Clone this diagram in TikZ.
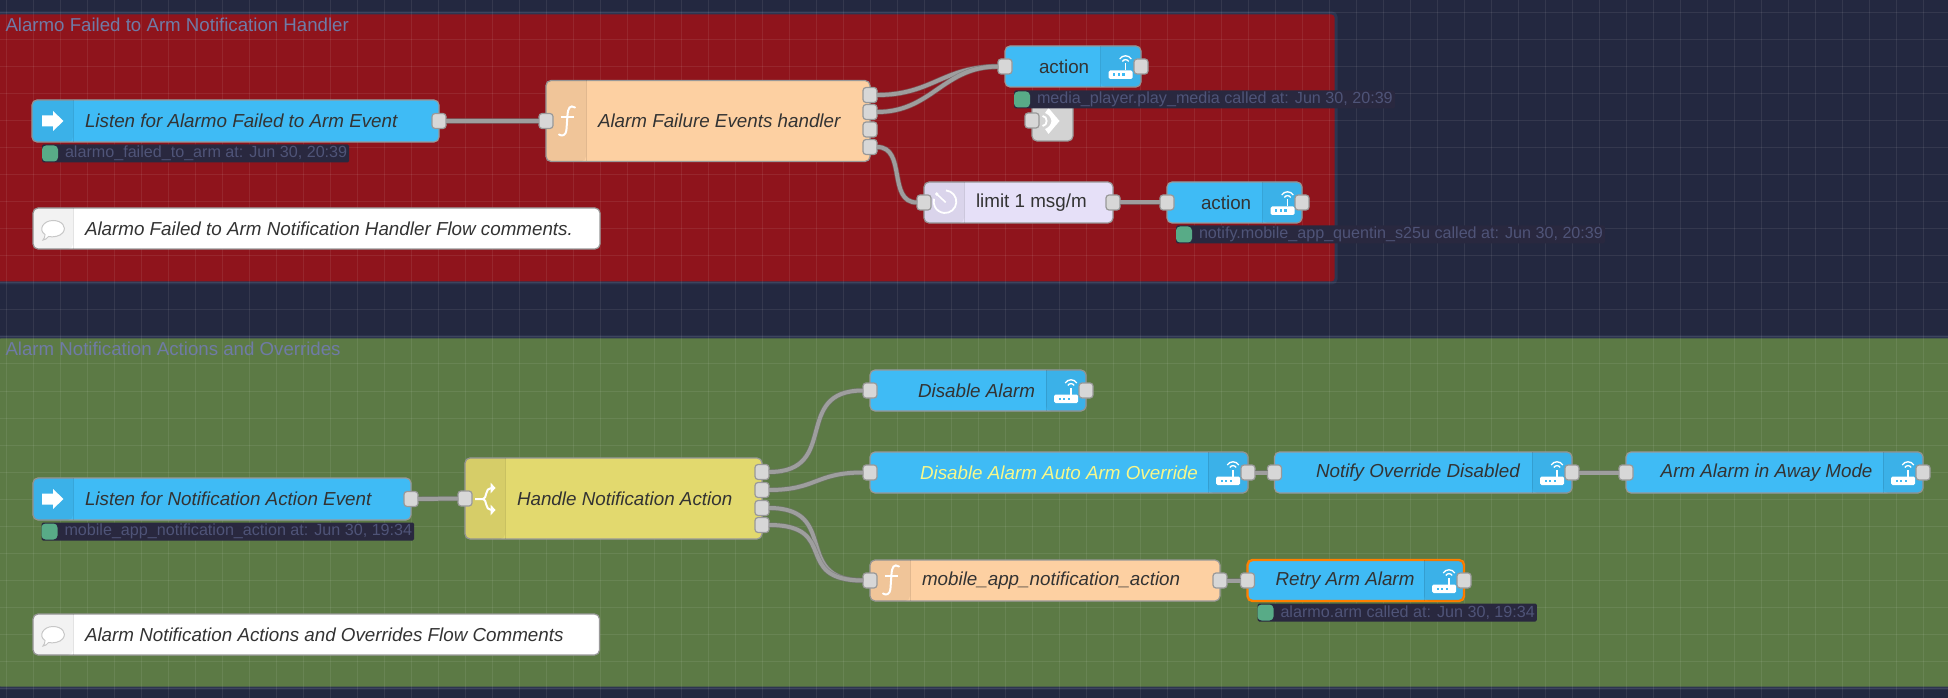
\documentclass[tikz,border=0pt]{standalone}
\usepackage{fontspec}
\setmainfont{Liberation Sans}
\newdimen\pxu
\pxu=0.75pt
\definecolor{canvasbg}{HTML}{232840}
\definecolor{groupedge}{HTML}{2D3550}
\definecolor{redgroup}{HTML}{8F141C}
\definecolor{greengroup}{HTML}{5C7A45}
\definecolor{titleink}{HTML}{6F7BA6}
\definecolor{statusink}{HTML}{4F5478}
\definecolor{statusbg}{HTML}{29283F}
\definecolor{statusgreen}{HTML}{58AB87}
\definecolor{wireink}{HTML}{999999}
\definecolor{bodyink}{HTML}{333333}
\definecolor{haskyblue}{HTML}{3FBBF5}
\definecolor{funcpeach}{HTML}{FDD0A2}
\definecolor{switchyellow}{HTML}{E2D96E}
\definecolor{delaylilac}{HTML}{E6E0F8}
\definecolor{linkgrey}{HTML}{D3D3D3}
\definecolor{overrideyellow}{HTML}{F8F88A}
\tikzset{every picture/.style={line width=0.75pt},
	nodesize/.style 2 args={minimum width=#1\pxu,minimum height=#2\pxu,text width=#1\pxu},
	flowbox/.style={draw=wireink,line width=1.2\pxu,rounded corners=5\pxu,anchor=north west,inner xsep=0pt,inner ysep=0pt,outer sep=0pt,align=flush left,text=bodyink,font=\fontsize{14.1}{16}\selectfont},
	bluebox/.style={flowbox,fill=haskyblue},
	funcbox/.style={flowbox,fill=funcpeach},
	switchbox/.style={flowbox,fill=switchyellow},
	delaybox/.style={flowbox,fill=delaylilac},
	notebox/.style={flowbox,fill=white},
	linkbox/.style={flowbox,fill=linkgrey},
	portbox/.style={draw=wireink,fill=linkgrey!90!white,line width=1.2\pxu,rounded corners=3\pxu,minimum width=14\pxu,minimum height=15\pxu,inner sep=0pt,outer sep=0pt},
	iconpanel/.style={black,opacity=0.05},
	panelseam/.style={black,opacity=0.1,line width=1\pxu},
	wire/.style={draw=black!38,line width=4\pxu,preaction={draw=black!55,line width=5.4\pxu,opacity=0.6}},
	gridline/.style={white,opacity=0.08,line width=1\pxu},
	groupbox/.style={anchor=north west,rounded corners=4\pxu,draw=groupedge,line width=3\pxu,inner sep=0pt,outer sep=0pt},
	grouptitle/.style={anchor=west,inner sep=0pt,text=titleink,font=\fontsize{14}{16}\selectfont},
	statusbox/.style={anchor=north west,fill=statusbg,rounded corners=1.5\pxu,inner xsep=2\pxu,inner ysep=0pt,minimum height=18\pxu,text=statusink,font=\fontsize{12.1}{14}\selectfont},
	statusdot/.style={anchor=west,fill=statusgreen,rounded corners=4\pxu,minimum width=16\pxu,minimum height=16\pxu,inner sep=0pt},
	routericon/.pic={\tikzset{yscale=-1}
		\fill[white,rounded corners=1.5\pxu] (-12,-4) rectangle (12,4.5);
		\foreach \dotx in {-6.3,-1.7,3} \fill[haskyblue] (\dotx-1.1,-1) rectangle (\dotx+1.1,1.2);
		\draw[white,line width=1.6\pxu] (5,-4) -- (5,-11);
		\draw[white,line width=1.3\pxu] (-0.8,-15.5) .. controls (2,-19.8) and (8,-19.8) .. (10.8,-15.5);
		\draw[white,line width=1.3\pxu] (1.8,-13) .. controls (3.5,-15.5) and (6.5,-15.5) .. (8.2,-13);
	},
	injecticon/.pic={\tikzset{yscale=-1}
		\fill[white] (-11,-5.5) -- (0,-5.5) -- (0,-10) -- (10.5,0) -- (0,10) -- (0,5.5) -- (-11,5.5) -- cycle;
	},
	functionicon/.pic={\tikzset{yscale=-1}
		\draw[white,line width=2\pxu,line cap=round] (8,-13.5) .. controls (3,-16.5) and (1,-13) .. (0.5,-6) -- (-0.5,8) .. controls (-1,15) and (-5,15.5) .. (-8,13.5);
		\draw[white,line width=2\pxu] (-6.5,-4) -- (7,-4);
	},
	bubbleicon/.pic={\tikzset{yscale=-1}
		\draw[black!22,fill=white,line width=1\pxu] (-8,5.5) .. controls (-15,1) and (-10,-8.5) .. (0,-8.5) .. controls (9,-8.5) and (14,-2) .. (10,3.5) .. controls (7,7.5) and (0,8.5) .. (-4.5,7.5) .. controls (-6,9.5) and (-8,11) .. (-10,11) .. controls (-8.5,9.5) and (-8,7.5) .. (-8,5.5) -- cycle;
	},
	timericon/.pic={\tikzset{yscale=-1}
		\draw[white,line width=1.8\pxu] (-85:11.3) arc[start angle=-85,end angle=195,radius=11.3];
		\draw[white,line width=1.6\pxu] (-8.3,-7.7) -- (0.7,0.7);
		\fill[white] (-8.3,-7.7) circle (1.8);
	},
	switchicon/.pic={\tikzset{yscale=-1}
		\draw[white,line width=2\pxu] (0,0) -- (8,0) .. controls (12,0) and (10,-11) .. (16,-11);
		\draw[white,line width=2\pxu] (8,0) .. controls (12,0) and (10,11) .. (16,11);
		\fill[white] (15.5,-16.5) -- (20.5,-11) -- (15.5,-5.5) -- cycle;
		\fill[white] (15.5,16.5) -- (20.5,11) -- (15.5,5.5) -- cycle;
	},
	linkicon/.pic={\tikzset{yscale=-1}
		\fill[white] (-1.5,-13) -- (9.5,0) -- (1.5,0) .. controls (1,-4) and (-2,-7) .. (-5,-8) -- cycle;
		\fill[white] (-1.5,13) -- (9.5,0) -- (1.5,0) .. controls (1,4) and (-2,7) .. (-5,8) -- cycle;
		\draw[white,line width=1.8\pxu] (-7.5,-5) .. controls (-2,-5) and (-2,5) .. (-7.5,5);
	}
}
\newcommand{\panelleft}[2]{
	\fill[iconpanel] (#2,0 |- #1.north) [rounded corners=5\pxu] -- (#1.north west) -- (#1.south west) -- (#2,0 |- #1.south) [sharp corners] -- cycle;
	\draw[panelseam] (#2,0 |- #1.north) -- (#2,0 |- #1.south);
}
\newcommand{\panelright}[2]{
	\fill[iconpanel] (#2,0 |- #1.north) [rounded corners=5\pxu] -- (#1.north east) -- (#1.south east) -- (#2,0 |- #1.south) [sharp corners] -- cycle;
	\draw[panelseam] (#2,0 |- #1.north) -- (#2,0 |- #1.south);
}
\begin{document}
\begin{tikzpicture}[x=0.75pt,y=0.75pt,yscale=-1,xscale=1]
	\useasboundingbox (0,0) rectangle (1948,698);
	\fill[canvasbg] (0,0) rectangle (1948,698);

	%Groups
	\node[groupbox,fill=redgroup,nodesize={1340}{270}] (groupA) at (-4,13) {};
	\node[groupbox,fill=greengroup,nodesize={1960}{351}] (groupB) at (-4,337) {};
	\foreach \gridx in {6,33,...,1948} \draw[gridline] (\gridx,0) -- (\gridx,698);
	\foreach \gridy in {13,40,...,698} \draw[gridline] (0,\gridy) -- (1948,\gridy);
	\node[grouptitle] (titleA) at (5,25) {Alarmo Failed to Arm Notification Handler};
	\node[grouptitle] (titleB) at (5,349) {Alarm Notification Actions and Overrides};

	%Upper flow
	\node[bluebox,nodesize={407}{42}] (listenA) at (32,100) {\hspace*{53\pxu}\itshape Listen for Alarmo Failed to Arm Event};
	\panelleft{listenA}{73}
	\pic at (53,121) {injecticon};
	\node[funcbox,nodesize={324}{81}] (handlerA) at (546,80.5) {\hspace*{52\pxu}\itshape Alarm Failure Events handler};
	\panelleft{handlerA}{586}
	\pic at (567,121) {functionicon};
	\node[linkbox,nodesize={41}{41}] (linkA) at (1032,100) {};
	\pic at (1050,121) {linkicon};
	\node[bluebox,nodesize={136}{41}] (actionA) at (1005,46) {\hspace*{34\pxu}action};
	\panelright{actionA}{1100.5}
	\pic at (1120.5,74.5) {routericon};
	\node[delaybox,nodesize={189}{41}] (limitA) at (924,182) {\hspace*{52\pxu}limit 1 msg/m};
	\panelleft{limitA}{964}
	\pic at (945,201.7) {timericon};
	\node[bluebox,nodesize={135}{41}] (actionB) at (1167,182) {\hspace*{34\pxu}action};
	\panelright{actionB}{1262.5}
	\pic at (1282.5,210.5) {routericon};
	\node[notebox,nodesize={567}{41}] (noteA) at (33,208) {\hspace*{52\pxu}\itshape Alarmo Failed to Arm Notification Handler Flow comments.};
	\panelleft{noteA}{73}
	\pic at (53,229) {bubbleicon};

	%Upper status
	\node[statusbox] (statusA) at (41.5,144) {\hspace*{21\pxu}alarmo\_failed\_to\_arm at: Jun 30, 20:39};
	\node[statusdot] (dotA) at (statusA.west) {};
	\node[statusbox] (statusB) at (1013.5,90) {\hspace*{21\pxu}media\_player.play\_media called at: Jun 30, 20:39};
	\node[statusdot] (dotB) at (statusB.west) {};
	\node[statusbox] (statusC) at (1175.5,225) {\hspace*{21\pxu}notify.mobile\_app\_quentin\_s25u called at: Jun 30, 20:39};
	\node[statusdot] (dotC) at (statusC.west) {};

	%Upper ports
	\node[portbox] (listenA out) at (listenA.east) {};
	\node[portbox] (handlerA in) at (handlerA.west) {};
	\node[portbox] (handlerA one) at (870,95) {};
	\node[portbox] (handlerA two) at (870,112) {};
	\node[portbox] (handlerA three) at (870,129.5) {};
	\node[portbox] (handlerA four) at (870,147) {};
	\node[portbox] (actionA in) at (actionA.west) {};
	\node[portbox] (actionA out) at (actionA.east) {};
	\node[portbox] (linkA in) at (linkA.west) {};
	\node[portbox] (limitA in) at (limitA.west) {};
	\node[portbox] (limitA out) at (limitA.east) {};
	\node[portbox] (actionB in) at (actionB.west) {};
	\node[portbox] (actionB out) at (actionB.east) {};

	%Upper wires
	\draw[wire] (listenA out.east) -- (handlerA in.west);
	\draw[wire] (handlerA one.east) .. controls +(55,0) and +(-55,0) .. (actionA in.west);
	\draw[wire] (handlerA two.east) .. controls +(55,0) and +(-55,0) .. (actionA in.west);
	\draw[wire] (handlerA four.east) .. controls +(30,0) and +(-30,0) .. (limitA in.west);
	\draw[wire] (limitA out.east) -- (actionB in.west);

	%Lower flow
	\node[bluebox,nodesize={378}{42}] (listenB) at (33,478) {\hspace*{52\pxu}\itshape Listen for Notification Action Event};
	\panelleft{listenB}{73}
	\pic at (53,499) {injecticon};
	\node[switchbox,nodesize={297}{81}] (switchB) at (465,458) {\hspace*{52\pxu}\itshape Handle Notification Action};
	\panelleft{switchB}{505}
	\pic at (475,499) {switchicon};
	\node[bluebox,nodesize={216}{41}] (disableA) at (870,370) {\hspace*{48\pxu}\itshape Disable Alarm};
	\panelright{disableA}{1046}
	\pic at (1066,398.5) {routericon};
	\node[bluebox,nodesize={378}{41}] (disableB) at (870,452) {\hspace*{50\pxu}\color{overrideyellow}\itshape Disable Alarm Auto Arm Override};
	\panelright{disableB}{1208}
	\pic at (1228,480.5) {routericon};
	\node[bluebox,nodesize={297.5}{41}] (notifyB) at (1274.5,452) {\hspace*{41.5\pxu}\itshape Notify Override Disabled};
	\panelright{notifyB}{1532}
	\pic at (1552,480.5) {routericon};
	\node[bluebox,nodesize={297}{41}] (armB) at (1626,452) {\hspace*{34.7\pxu}\itshape Arm Alarm in Away Mode};
	\panelright{armB}{1883}
	\pic at (1903,480.5) {routericon};
	\node[funcbox,nodesize={350}{41}] (mobileB) at (870,560) {\hspace*{52\pxu}\itshape mobile\_app\_notification\_action};
	\panelleft{mobileB}{910}
	\pic at (891,580) {functionicon};
	\node[bluebox,draw=orange,line width=2.4\pxu,nodesize={216.5}{41}] (retryB) at (1247.5,560) {\hspace*{28\pxu}\itshape Retry Arm Alarm};
	\panelright{retryB}{1424}
	\pic at (1444,588.5) {routericon};
	\node[notebox,nodesize={566.5}{41}] (noteB) at (33,614) {\hspace*{52\pxu}\itshape Alarm Notification Actions and Overrides Flow Comments};
	\panelleft{noteB}{73}
	\pic at (53,635) {bubbleicon};

	%Lower status
	\node[statusbox] (statusD) at (41,522) {\hspace*{21\pxu}mobile\_app\_notification\_action at: Jun 30, 19:34};
	\node[statusdot] (dotD) at (statusD.west) {};
	\node[statusbox] (statusE) at (1257,603) {\hspace*{21\pxu}alarmo.arm called at: Jun 30, 19:34};
	\node[statusdot] (dotE) at (statusE.west) {};

	%Lower ports
	\node[portbox] (listenB out) at (listenB.east) {};
	\node[portbox] (switchB in) at (switchB.west) {};
	\node[portbox] (switchB one) at (762,472) {};
	\node[portbox] (switchB two) at (762,490) {};
	\node[portbox] (switchB three) at (762,508) {};
	\node[portbox] (switchB four) at (762,525) {};
	\node[portbox] (disableA in) at (disableA.west) {};
	\node[portbox] (disableA out) at (disableA.east) {};
	\node[portbox] (disableB in) at (disableB.west) {};
	\node[portbox] (disableB out) at (disableB.east) {};
	\node[portbox] (notifyB in) at (notifyB.west) {};
	\node[portbox] (notifyB out) at (notifyB.east) {};
	\node[portbox] (armB in) at (armB.west) {};
	\node[portbox] (armB out) at (armB.east) {};
	\node[portbox] (mobileB in) at (mobileB.west) {};
	\node[portbox] (mobileB out) at (mobileB.east) {};
	\node[portbox] (retryB in) at (retryB.west) {};
	\node[portbox] (retryB out) at (retryB.east) {};

	%Lower wires
	\draw[wire] (listenB out.east) -- (switchB in.west);
	\draw[wire] (switchB one.east) .. controls +(72,0) and +(-72,0) .. (disableA in.west);
	\draw[wire] (switchB two.east) .. controls +(48,0) and +(-48,0) .. (disableB in.west);
	\draw[wire] (switchB three.east) .. controls +(72,0) and +(-72,0) .. (mobileB in.west);
	\draw[wire] (switchB four.east) .. controls +(72,0) and +(-72,0) .. (mobileB in.west);
	\draw[wire] (disableB out.east) -- (notifyB in.west);
	\draw[wire] (notifyB out.east) -- (armB in.west);
	\draw[wire] (mobileB out.east) -- (retryB in.west);
\end{tikzpicture}
\end{document}
